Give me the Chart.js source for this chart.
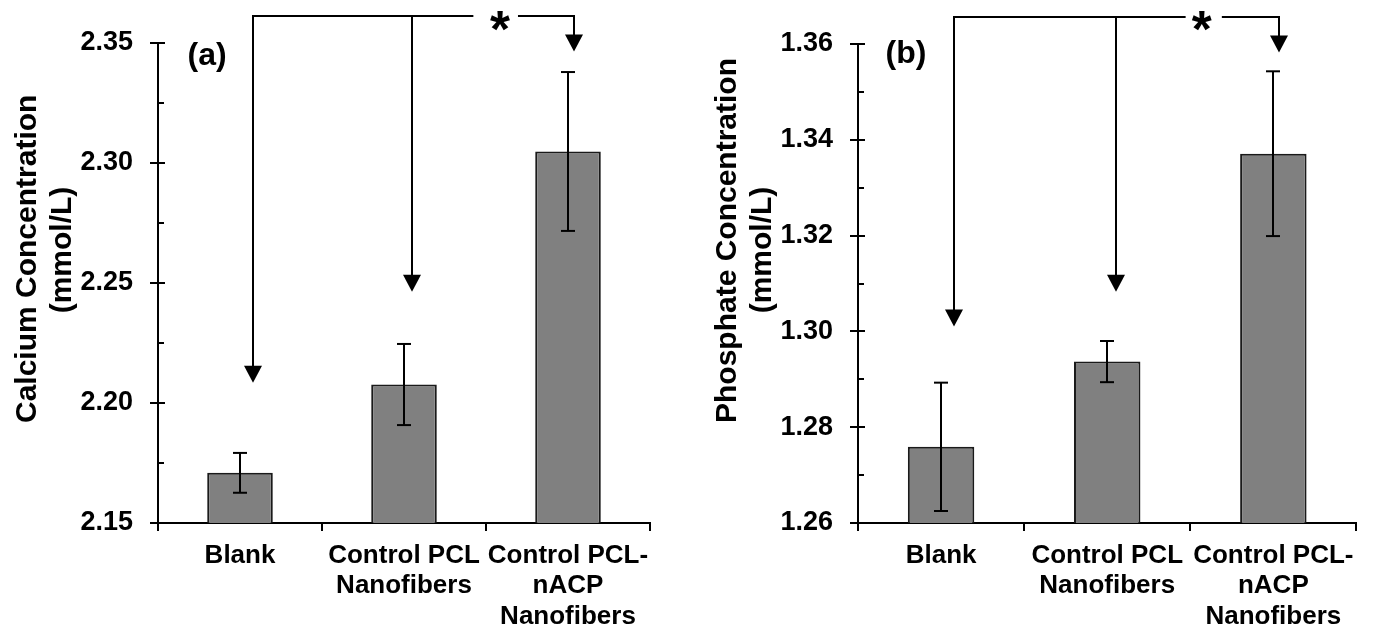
<!DOCTYPE html>
<html><head><meta charset="utf-8">
<script src="https://cdn.jsdelivr.net/npm/chart.js@4.4.1/dist/chart.umd.min.js"></script>
<style>
html,body{margin:0;padding:0;background:#fff;width:1374px;height:631px;overflow:hidden}
.wrap{position:absolute;top:0;width:687px;height:631px}
canvas{display:block}
</style></head><body>
<div class="wrap" style="left:0"><canvas id="ca" width="687" height="631"></canvas></div>
<div class="wrap" style="left:687px"><canvas id="cb" width="687" height="631"></canvas></div>
<script>
// ---------- data ----------
const categories = ['Blank', ['Control PCL', 'Nanofibers'], ['Control PCL-', 'nACP', 'Nanofibers']];
const calciumMeans = [2.1709, 2.2077, 2.3048];
const calciumErrors = [0.0083, 0.0169, 0.0331];
const calciumTicks = [2.15, 2.20, 2.25, 2.30, 2.35];
const phosphateMeans = [1.2759, 1.2937, 1.3371];
const phosphateErrors = [0.0134, 0.0043, 0.0172];
const phosphateTicks = [1.26, 1.28, 1.30, 1.32, 1.34, 1.36];
const calciumTitle = ['Calcium Concentration', '(mmol/L)'];
const phosphateTitle = ['Phosphate Concentration', '(mmol/L)'];

// significance brackets (category-index / value coordinates)
const calciumArrowX = [0.077, 1.049, 2.037];
const calciumArrowTip = [2.2084, 2.2464, 2.3465];
const calciumBracketTop = 2.3611;
const calciumStar = [1.585, 2.3593, 1.423, 1.695]; // x, y, gap start, gap end
const calciumPanel = ['(a)', -0.2, 2.3442];

const phosphateArrowX = [0.076, 1.051, 2.032];
const phosphateArrowTip = [1.3010, 1.3083, 1.3582];
const phosphateBracketTop = 1.3657;
const phosphateStar = [1.569, 1.3649, 1.472, 1.690];
const phosphatePanel = ['(b)', -0.21, 1.3577];

const FONT = 'Liberation Sans, Arial, sans-serif';

function seg(ctx, x1, y1, x2, y2) { ctx.beginPath(); ctx.moveTo(x1, y1); ctx.lineTo(x2, y2); ctx.stroke(); }
function inkText(ctx, txt, font, cx, cy) {
  ctx.font = font;
  const m = ctx.measureText(txt);
  const w = m.actualBoundingBoxRight + m.actualBoundingBoxLeft;
  const bx = cx - w / 2 + m.actualBoundingBoxLeft;
  const by = cy + (m.actualBoundingBoxAscent - m.actualBoundingBoxDescent) / 2;
  ctx.textAlign = 'left'; ctx.textBaseline = 'alphabetic';
  ctx.fillText(txt, bx, by);
}

function makeDeco(cfg) {
  return {
    id: 'deco',
    afterDraw(chart) {
      const ctx = chart.ctx, xs = chart.scales.x, ys = chart.scales.y, ca = chart.chartArea;
      const xp = v => xs.getPixelForValue(v), yp = v => ys.getPixelForValue(v);
      ctx.save();
      ctx.strokeStyle = '#000'; ctx.fillStyle = '#000'; ctx.lineWidth = 2; ctx.lineCap = 'butt';
      // y ticks (major cross, minor inside)
      const tv = ys.ticks.map(t => t.value);
      const ax = Math.round(ca.left);
      tv.forEach(v => { const y = Math.round(yp(v)); seg(ctx, ax - 8, y, ax + 7, y); });
      for (let i = 0; i < tv.length - 1; i++) {
        const y = Math.round(yp((tv[i] + tv[i + 1]) / 2)); seg(ctx, ax, y, ax + 6, y);
      }
      // x category boundary ticks
      const by = Math.round(ca.bottom);
      for (let i = 0; i <= categories.length; i++) {
        const x = Math.round(xp(i - 0.5)); seg(ctx, x, by, x, by + 8);
      }
      // error bars
      const meta = chart.getDatasetMeta(0);
      meta.data.forEach((bar, i) => {
        const x = Math.round(bar.x);
        const yT = yp(cfg.means[i] + cfg.errs[i]), yB = yp(cfg.means[i] - cfg.errs[i]);
        seg(ctx, x, yT, x, yB);
        seg(ctx, x - 7, yT, x + 7, yT);
        seg(ctx, x - 7, yB, x + 7, yB);
      });
      // bracket with arrows
      const yTop = Math.round(yp(cfg.top));
      const axs = cfg.arrowX.map(v => Math.round(xp(v)));
      seg(ctx, axs[0] - 1, yTop, xp(cfg.star[2]), yTop);
      seg(ctx, xp(cfg.star[3]), yTop, axs[2] + 1, yTop);
      axs.forEach((x, i) => {
        const tip = yp(cfg.tips[i]);
        seg(ctx, x, yTop, x, tip - 15);
        ctx.beginPath(); ctx.moveTo(x - 9, tip - 17); ctx.lineTo(x + 9, tip - 17); ctx.lineTo(x, tip); ctx.closePath(); ctx.fill();
      });
      // star
      ctx.font = 'bold 100px ' + FONT;
      const m = ctx.measureText('*');
      const size = 100 * 20 / (m.actualBoundingBoxRight + m.actualBoundingBoxLeft);
      inkText(ctx, '*', 'bold ' + size.toFixed(1) + 'px ' + FONT, xp(cfg.star[0]), yp(cfg.star[1]));
      // panel label
      inkText(ctx, cfg.panel[0], 'bold 32px ' + FONT, xp(cfg.panel[1]), yp(cfg.panel[2]));
      // rotated y title
      ctx.font = 'bold 30px ' + FONT;
      ctx.textBaseline = 'alphabetic';
      ctx.save(); ctx.translate(ax - 122, 423); ctx.rotate(-Math.PI / 2);
      ctx.textAlign = 'left'; ctx.fillText(cfg.title[0], 0, 0); ctx.restore();
      ctx.save(); ctx.translate(ax - 87, 250); ctx.rotate(-Math.PI / 2);
      ctx.textAlign = 'center'; ctx.fillText(cfg.title[1], 0, 0); ctx.restore();
      ctx.restore();
    }
  };
}

function build(id, cfg) {
  new Chart(document.getElementById(id), {
    type: 'bar',
    data: {
      labels: categories,
      datasets: [{
        data: cfg.means,
        backgroundColor: '#808080',
        borderColor: '#1a1a1a',
        borderWidth: 2,
        barPercentage: 0.4,
        categoryPercentage: 1.0
      }]
    },
    options: {
      responsive: false,
      animation: false,
      devicePixelRatio: 1,
      layout: { padding: { top: cfg.padTop, right: cfg.padRight, left: 0, bottom: 0 } },
      plugins: { legend: { display: false }, tooltip: { enabled: false } },
      scales: {
        x: {
          z: 1,
          grid: { display: false, drawTicks: false },
          border: { display: true, color: '#000', width: 2 },
          ticks: { color: '#000', padding: 18, maxRotation: 0, autoSkip: false,
                   font: { family: FONT, size: 26, weight: 'bold', lineHeight: 1.16 } },
          afterFit: s => { s.height = 108; }
        },
        y: {
          z: 1,
          min: cfg.ticks[0], max: cfg.ticks[cfg.ticks.length - 1],
          grid: { display: false, drawTicks: false },
          border: { display: true, color: '#000', width: 2 },
          ticks: { color: '#000', padding: 25, font: { family: FONT, size: 27, weight: 'bold' },
                   callback: v => Number(v).toFixed(2) },
          afterBuildTicks: s => { s.ticks = cfg.ticks.map(v => ({ value: v })); },
          afterFit: s => { s.width = cfg.axisW; }
        }
      }
    },
    plugins: [makeDeco(cfg)]
  });
}

build('ca', {
  means: calciumMeans, errs: calciumErrors, ticks: calciumTicks, title: calciumTitle,
  arrowX: calciumArrowX, tips: calciumArrowTip, top: calciumBracketTop, star: calciumStar, panel: calciumPanel,
  padTop: 43, padRight: 37, axisW: 158
});
build('cb', {
  means: phosphateMeans, errs: phosphateErrors, ticks: phosphateTicks, title: phosphateTitle,
  arrowX: phosphateArrowX, tips: phosphateArrowTip, top: phosphateBracketTop, star: phosphateStar, panel: phosphatePanel,
  padTop: 44, padRight: 15, axisW: 171
});
</script>
</body></html>
